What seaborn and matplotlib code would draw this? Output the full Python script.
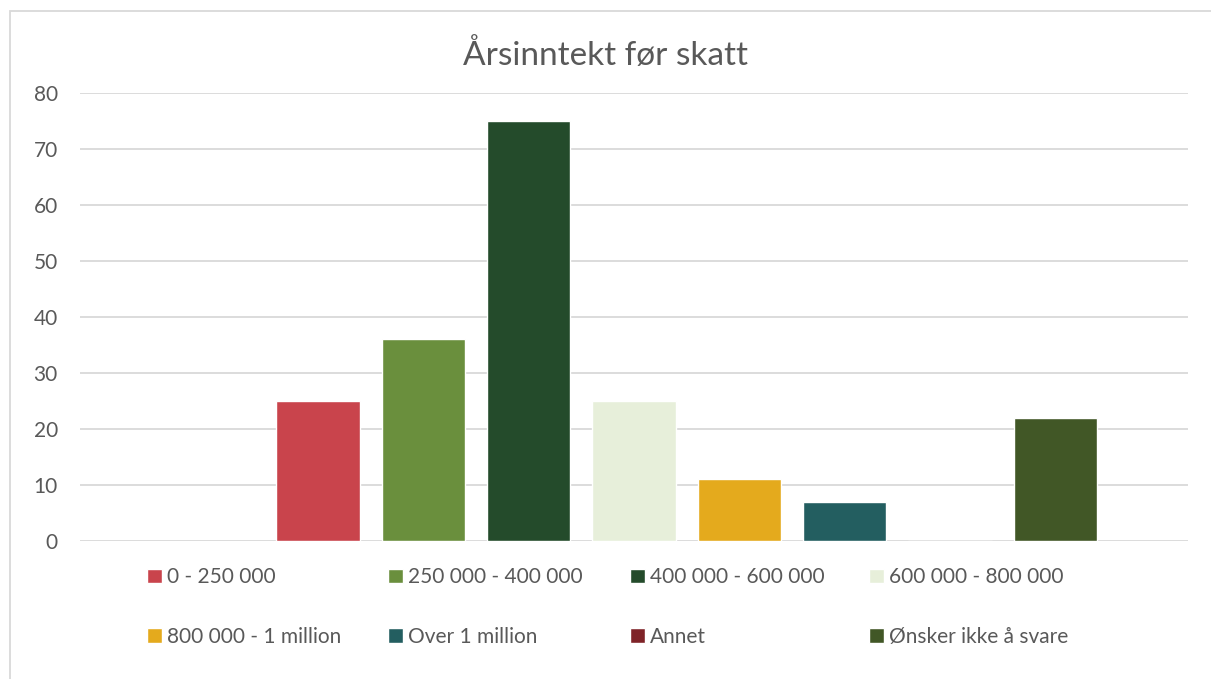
import numpy as np
import pandas as pd
import matplotlib
matplotlib.use("Agg")
import matplotlib.pyplot as plt
import seaborn as sns
from matplotlib.patches import Rectangle

# survey answers
categories = ["0 - 250 000", "250 000 - 400 000", "400 000 - 600 000", "600 000 - 800 000",
              "800 000 - 1 million", "Over 1 million", "Annet", "Ønsker ikke å svare"]
counts = [25, 36, 75, 25, 11, 7, 0, 22]
colors = ["#C9444C", "#6A8F3D", "#244B2B", "#E7EFDA", "#E4AA1D", "#235E60", "#7F2328", "#415726"]
yticks = [0, 10, 20, 30, 40, 50, 60, 70, 80]
title = "Årsinntekt før skatt"

df = pd.DataFrame({"kategori": categories, "antall": counts})

sns.set_theme(style="white")
plt.rcParams["font.family"] = ["Lato", "DejaVu Sans"]
txt = "#595959"
W, H = 1211, 679

fig = plt.figure(figsize=(W / 100, H / 100), dpi=100)
ax = fig.add_axes([80 / W, 1 - 541 / H, (1188 - 80) / W, (541 - 93) / H])

# Excel left an empty slot ahead of the first bar
order = [" "] + categories
sns.barplot(data=df, x="kategori", y="antall", hue="kategori", order=order,
            hue_order=categories, palette=colors, width=0.79, saturation=1,
            ax=ax, legend=True)

ax.set_xlim(-1.26, 9.26)
ax.set_ylim(0, 80)
ax.set_yticks(yticks)
ax.yaxis.grid(True, color="#d9d9d9", lw=1.3)
ax.set_axisbelow(True)
for s in ax.spines.values():
    s.set_visible(False)
ax.set_xticks([])
ax.set_xlabel("")
ax.set_ylabel("")
ax.tick_params(axis="y", length=0, pad=16, labelsize=15, labelcolor=txt)

fig.text(0.5, 1 - 55 / H, title, ha="center", va="center", fontsize=24, color=txt)

# Excel legend: 4 equal columns, filled row by row -> one small legend per column
handles, labels = ax.get_legend_handles_labels()
ax.get_legend().remove()
col_x = [147, 388, 630, 869]
for c, x in enumerate(col_x):
    hs = [handles[c], handles[c + 4]]
    ls = [labels[c], labels[c + 4]]
    fig.legend(hs, ls, loc="center left", bbox_to_anchor=(x / W, 1 - 607 / H),
               frameon=False, fontsize=15, labelcolor=txt, borderpad=0, borderaxespad=0,
               handlelength=0.7, handleheight=0.7, handletextpad=0.25,
               labelspacing=1.9)

# chart border from the screenshot
fig.add_artist(Rectangle((9.5 / W, -0.5), 1.5, 1.5 - 10.5 / H, transform=fig.transFigure,
                         fill=False, edgecolor="#d9d9d9", lw=1.3))

fig.savefig("out.png", dpi=100)
